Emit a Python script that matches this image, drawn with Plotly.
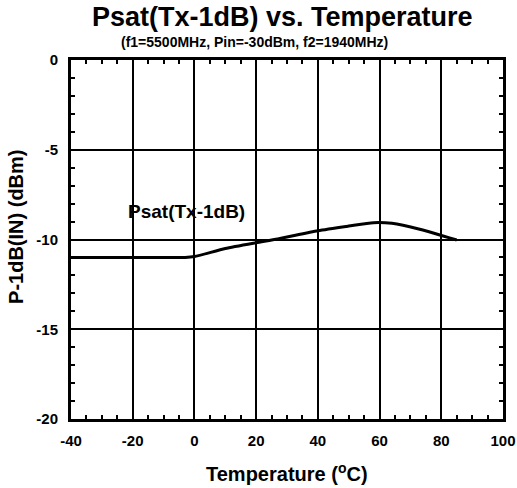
import plotly.graph_objects as go

temperature = [-40, -30, -20, -10, -3, 0, 10, 20, 27, 40, 50, 58, 64, 73, 85]
psat = [-11.0, -11.0, -11.0, -11.0, -11.0, -10.95, -10.5, -10.18, -9.97, -9.51, -9.25, -9.06, -9.1, -9.43, -10.03]

x_ticks = [-40, -20, 0, 20, 40, 60, 80, 100]
y_ticks = [0, -5, -10, -15, -20]

FONT = "Liberation Sans, Arial, sans-serif"

fig = go.Figure()
fig.add_trace(go.Scatter(
    x=temperature, y=psat, mode="lines",
    line=dict(color="black", width=3, shape="spline", smoothing=0.6),
    showlegend=False, hoverinfo="skip"))

axis_common = dict(
    showgrid=True, gridcolor="black", gridwidth=1.8,
    showline=True, linecolor="black", linewidth=3, mirror="allticks",
    ticks="inside", ticklen=0, tickcolor="black",
    zeroline=False, automargin=False,
    tickfont=dict(family=FONT, size=15, color="black", weight="bold"),
)

fig.update_xaxes(
    range=[-40, 100], tickvals=x_ticks, ticktext=[str(v) for v in x_ticks],
    ticklabelstandoff=6,
    minor=dict(dtick=5, ticks="inside", ticklen=4, tickwidth=1.5, tickcolor="black", showgrid=False),
    **axis_common)
fig.update_yaxes(
    range=[-20, 0], tickvals=y_ticks, ticktext=[str(v) for v in y_ticks],
    ticklabelstandoff=7,
    minor=dict(dtick=1, ticks="inside", ticklen=4, tickwidth=1.5, tickcolor="black", showgrid=False),
    **axis_common)

fig.add_annotation(x=-2.5, y=-8.45, text="Psat(Tx-1dB)", showarrow=False,
                   font=dict(family=FONT, size=19, color="black", weight="bold"))

# titles
fig.add_annotation(xref="paper", yref="paper", x=0.49, y=1.0, yshift=43, yanchor="middle",
                   text="Psat(Tx-1dB) vs. Temperature", showarrow=False,
                   font=dict(family=FONT, size=27, color="black", weight="bold"))
fig.add_annotation(xref="paper", yref="paper", x=0.425, y=1.0, yshift=18, yanchor="middle",
                   text="(f1=5500MHz, Pin=-30dBm, f2=1940MHz)", showarrow=False,
                   font=dict(family=FONT, size=14, color="black", weight="bold"))
fig.add_annotation(xref="paper", yref="paper", x=0.5, y=0.0, yshift=-53, yanchor="middle",
                   text="Temperature (<sup>o</sup>C)", showarrow=False,
                   font=dict(family=FONT, size=20, color="black", weight="bold"))
fig.add_annotation(xref="paper", yref="paper", x=0.0, y=0.535, xshift=-55, xanchor="center", yanchor="middle",
                   text="P-1dB(IN) (dBm)", textangle=-90, showarrow=False,
                   font=dict(family=FONT, size=20, color="black", weight="bold"))

fig.update_layout(
    width=517, height=488,
    margin=dict(l=71, r=14, t=60, b=69),
    paper_bgcolor="white", plot_bgcolor="white",
)

fig.write_html("out.html")
